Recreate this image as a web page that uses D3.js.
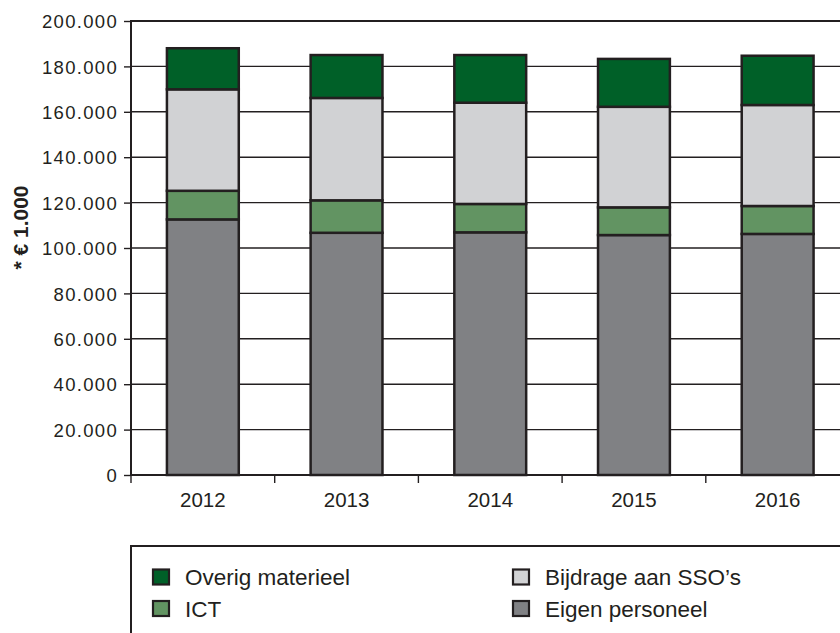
<!DOCTYPE html>
<html>
<head>
<meta charset="utf-8">
<script src="https://cdn.jsdelivr.net/npm/d3@7"></script>
<style>
  html, body { margin: 0; padding: 0; background: #fff; }
  svg { display: block; font-family: "Liberation Sans", Arial, Helvetica, sans-serif; }
</style>
</head>
<body>
<svg id="chart" width="840" height="633"></svg>
<script>
// ---- data ----
const years = ["2012", "2013", "2014", "2015", "2016"];
const seriesNames = ["Eigen personeel", "ICT", "Bijdrage aan SSO\u2019s", "Overig materieel"];
const eigenPersoneel = [112600, 106700, 106900, 105700, 106200];
const ict            = [12600, 14300, 12500, 12200, 12300];
const bijdrageSSO    = [44700, 45100, 44600, 44300, 44500];
const overigMaterieel= [18100, 18900, 21000, 21100, 21700];
const yTicks = [0, 20000, 40000, 60000, 80000, 100000, 120000, 140000, 160000, 180000, 200000];
const legendOrder = ["Overig materieel", "Bijdrage aan SSO\u2019s", "ICT", "Eigen personeel"];

// ---- styling ----
const colors = {
  "Eigen personeel": "#808184",
  "ICT": "#629462",
  "Bijdrage aan SSO\u2019s": "#d1d2d4",
  "Overig materieel": "#006028"
};
const ink = "#231f20";

const svg = d3.select("#chart");
const mLeft = 131, mTop = 21, mBottom = 475, mRight = 849.5;

const x = d3.scaleBand().domain(years).range([mLeft, mRight]).paddingInner(0.5).paddingOuter(0.25);
const y = d3.scaleLinear().domain([0, 200000]).range([mBottom, mTop]);

const loc = d3.formatLocale({decimal: ",", thousands: ".", grouping: [3], currency: ["€", ""]});
const fmt = loc.format(",");

// table built from arrays
const table = years.map((yr, i) => ({
  year: yr,
  "Eigen personeel": eigenPersoneel[i],
  "ICT": ict[i],
  "Bijdrage aan SSO\u2019s": bijdrageSSO[i],
  "Overig materieel": overigMaterieel[i]
}));
const stacked = d3.stack().keys(seriesNames)(table);

// gridlines
svg.append("g").selectAll("line").data(yTicks.filter(d => d > 0)).join("line")
  .attr("x1", mLeft).attr("x2", 840)
  .attr("y1", d => y(d)).attr("y2", d => y(d))
  .attr("stroke", ink).attr("stroke-width", d => d === 200000 ? 2.2 : 1.4);

// y axis
const yAxis = svg.append("g").attr("transform", `translate(${mLeft},0)`)
  .call(d3.axisLeft(y).tickValues(yTicks).tickFormat(fmt).tickSize(7).tickPadding(6));
yAxis.select(".domain").remove();
yAxis.selectAll(".tick line").attr("stroke", ink).attr("stroke-width", 1.4);
yAxis.selectAll(".tick text").attr("fill", ink).style("font-size", "18.5px").style("letter-spacing", "1.3px")
  .attr("dy", "0.36em");
svg.append("line").attr("x1", mLeft).attr("x2", mLeft).attr("y1", mTop - 1).attr("y2", mBottom + 1)
  .attr("stroke", ink).attr("stroke-width", 2);

// bars
svg.append("g").selectAll("g").data(stacked).join("g")
  .attr("fill", d => colors[d.key])
  .selectAll("rect").data(d => d).join("rect")
  .attr("x", d => x(d.data.year))
  .attr("width", x.bandwidth())
  .attr("y", d => y(d[1]))
  .attr("height", d => y(d[0]) - y(d[1]))
  .attr("stroke", ink).attr("stroke-width", 2.5);

// x axis
const step = x.step();
const xAxis = svg.append("g").attr("transform", `translate(0,${mBottom})`)
  .call(d3.axisBottom(x).tickSize(0).tickPadding(17));
xAxis.select(".domain").remove();
xAxis.selectAll(".tick text").attr("fill", ink).style("font-size", "20.5px");
svg.append("line").attr("x1", mLeft).attr("x2", 840).attr("y1", mBottom).attr("y2", mBottom)
  .attr("stroke", ink).attr("stroke-width", 2);
svg.append("g").selectAll("line").data(years.concat(["end"])).join("line")
  .attr("x1", (d, i) => mLeft + i * step).attr("x2", (d, i) => mLeft + i * step)
  .attr("y1", mBottom).attr("y2", mBottom + 8)
  .attr("stroke", ink).attr("stroke-width", 1.4);

// y label
svg.append("text")
  .attr("transform", "translate(28,227.5) rotate(-90)")
  .attr("text-anchor", "middle")
  .attr("fill", ink)
  .style("font-size", "21px").style("font-weight", "bold")
  .text("* \u20ac 1.000");

// legend
svg.append("rect").attr("x", mLeft).attr("y", 546).attr("width", 760).attr("height", 120)
  .attr("fill", "none").attr("stroke", ink).attr("stroke-width", 2);
const legPos = [[153, 577], [513, 577], [153, 608.5], [513, 608.5]];
const lg = svg.append("g").selectAll("g").data(legendOrder).join("g")
  .attr("transform", (d, i) => `translate(${legPos[i][0]},${legPos[i][1]})`);
lg.append("rect").attr("x", 0).attr("y", -7.5).attr("width", 16).attr("height", 15)
  .attr("fill", d => colors[d]).attr("stroke", ink).attr("stroke-width", 2.2);
lg.append("text").attr("x", 32).attr("dy", "0.36em").attr("fill", ink)
  .style("font-size", "22.5px").text(d => d);
</script>
</body>
</html>
